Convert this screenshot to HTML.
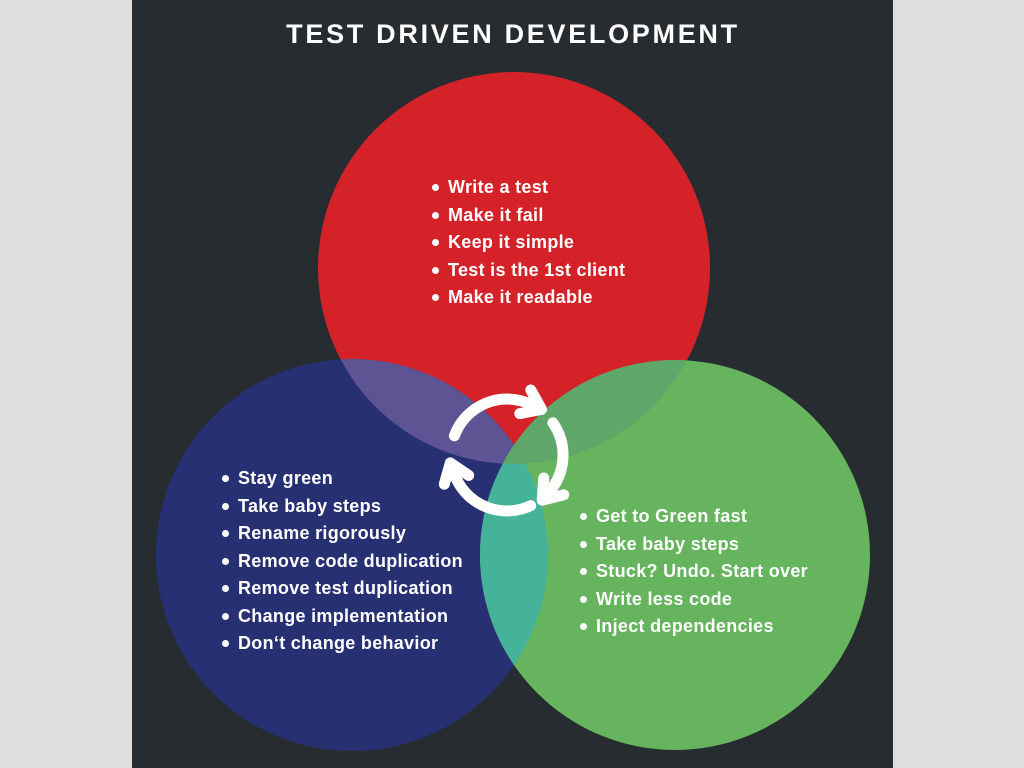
<!DOCTYPE html>
<html><head><style>
html,body{margin:0;padding:0;}
body{width:1024px;height:768px;background:#dedede;position:relative;overflow:hidden;font-family:"Liberation Sans",Arial,sans-serif;}
#panel{position:absolute;left:132px;top:0;width:761px;height:768px;background:#272c30;}
.t{position:absolute;color:#fff;font-size:18px;font-weight:bold;letter-spacing:0.3px;line-height:27.5px;white-space:nowrap;}
.t div{position:relative;padding-left:16px;}
.t div:before{content:"";position:absolute;left:0;top:10px;width:7px;height:7px;border-radius:50%;background:#fff;}
</style></head><body>
<div id="panel"></div>
<svg width="1024" height="768" style="position:absolute;left:0;top:0">
<defs>
<clipPath id="cr"><circle cx="514" cy="268" r="196"/></clipPath>
<clipPath id="cb"><circle cx="352" cy="555" r="196"/></clipPath>
</defs>
<circle cx="514" cy="268" r="196" fill="#d52229"/>
<circle cx="352" cy="555" r="196" fill="#283074"/>
<circle cx="675" cy="555" r="195" fill="#67b45e"/>
<circle cx="352" cy="555" r="196" fill="#5e5494" clip-path="url(#cr)"/>
<circle cx="675" cy="555" r="195" fill="#5fa66a" clip-path="url(#cr)"/>
<circle cx="675" cy="555" r="195" fill="#45b39a" clip-path="url(#cb)"/>
<g clip-path="url(#cr)"><circle cx="675" cy="555" r="195" fill="#5fa66a" clip-path="url(#cb)"/></g>
<text x="513" y="43" fill="#fff" font-size="27" font-weight="bold" text-anchor="middle" letter-spacing="2.7" font-family="Liberation Sans, Arial, sans-serif">TEST DRIVEN DEVELOPMENT</text>
<g fill="none" stroke="#fff" stroke-width="11" stroke-linecap="round" stroke-linejoin="round">
<path d="M454.4 435.8 A56 56 0 0 1 530.7 404.3"/>
<polyline points="530.8,390.0 541.6,409.4 519.8,413.6"/>
<path d="M552.9 422.9 A56 56 0 0 1 549.9 491.0"/>
<polyline points="563.8,494.8 542.2,500.2 543.8,478.0"/>
<path d="M530.7 505.7 A56 56 0 0 1 454.4 474.2"/>
<polyline points="444.3,484.2 450.3,462.9 468.7,475.4"/>
</g>
</svg>
<div class="t" style="left:432px;top:174px;">
<div>Write a test</div><div>Make it fail</div><div>Keep it simple</div><div>Test is the 1st client</div><div>Make it readable</div>
</div>
<div class="t" style="left:222px;top:465px;">
<div>Stay green</div><div>Take baby steps</div><div>Rename rigorously</div><div>Remove code duplication</div><div>Remove test duplication</div><div>Change implementation</div><div>Don‘t change behavior</div>
</div>
<div class="t" style="left:580px;top:503px;">
<div>Get to Green fast</div><div>Take baby steps</div><div>Stuck? Undo. Start over</div><div>Write less code</div><div>Inject dependencies</div>
</div>
</body></html>
